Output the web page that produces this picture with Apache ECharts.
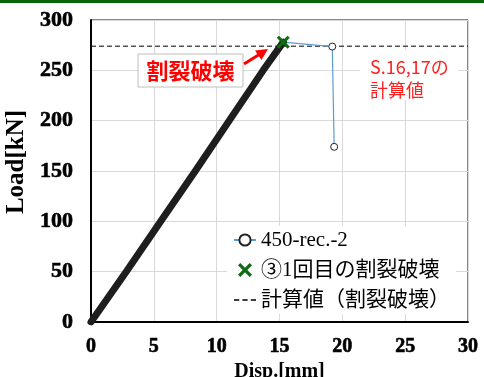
<!DOCTYPE html>
<html>
<head>
<meta charset="utf-8">
<script src="https://cdn.jsdelivr.net/npm/echarts@6/dist/echarts.min.js"></script>
<style>
  html, body { margin: 0; padding: 0; background: #fff; }
  #chart { width: 484px; height: 377px; }
</style>
</head>
<body>
<div id="chart"></div>
<script>
// Load–displacement record of specimen 450-rec.-2
const dispRec = [0, 2.8, 5.55, 8.3, 11.0, 13.7, 15.3, 19.2, 19.35];
const loadRec = [0, 50, 100, 150, 200, 250, 278, 273.6, 174];
const peakIndex = 6;                 // first splitting failure (③)
const peakDisp = [dispRec[peakIndex]];
const peakLoad = [loadRec[peakIndex]];
// calculated splitting-failure load (S.16,17)
const calcDisp = [0, 30];
const calcLoad = [274, 274];

const xTicks = [0, 5, 10, 15, 20, 25, 30];
const yTicks = [0, 50, 100, 150, 200, 250, 300];

const seriesNames = ['450-rec.-2', '③1回目の割裂破壊', '計算値（割裂破壊）'];

const serif = 'Liberation Serif';
const jpFont = '"Liberation Serif", "Noto Sans CJK JP", serif';
const jpSans = '"Noto Sans CJK JP", "Noto Sans", sans-serif';

const recPoints = dispRec.map((d, i) => i <= peakIndex
  ? { value: [d, loadRec[i]], symbol: 'none' }
  : { value: [d, loadRec[i]] });
const densePoints = dispRec.slice(0, peakIndex + 1).map((d, i) => [d, loadRec[i]]);
const peakPoints = peakDisp.map((d, i) => [d, peakLoad[i]]);
const calcPoints = calcDisp.map((d, i) => [d, calcLoad[i]]);

const crossPath = 'path://M2,0 L6,4 L10,0 L12,2 L8,6 L12,10 L10,12 L6,8 L2,12 L0,10 L4,6 L0,2 Z';
const dashIcon = 'path://M0,0 h5 v1.2 h-5 Z M8,0 h5 v1.2 h-5 Z M16,0 h5 v1.2 h-5 Z';

// heavy serif tick numbers
const tickText = size => ({
  fontFamily: serif, fontWeight: 'bold', fontSize: size, color: '#000',
  textBorderColor: '#000', textBorderWidth: 0.6
});

const chart = echarts.init(document.getElementById('chart'), null, { renderer: 'canvas' });
chart.setOption({
  animation: false,
  backgroundColor: '#fff',
  textStyle: { fontFamily: serif, fontWeight: 'bold' },
  grid: {
    left: 91, right: 16, top: 20, bottom: 55,
    containLabel: false, outerBoundsMode: 'none',
    show: true, borderColor: '#111', borderWidth: 1, backgroundColor: 'transparent'
  },
  xAxis: {
    type: 'value', min: xTicks[0], max: xTicks[xTicks.length - 1], interval: 5,
    name: 'Disp.[mm]', nameLocation: 'middle', nameGap: 30,
    nameTextStyle: { fontFamily: serif, fontWeight: 'bold', fontSize: 20, color: '#000' },
    axisLine: { show: true, onZero: false, lineStyle: { color: '#000', width: 2 } },
    axisTick: { show: false },
    axisLabel: Object.assign({ margin: 15 }, tickText(20)),
    splitLine: { show: true, lineStyle: { color: '#d9d9d9', width: 1 } }
  },
  yAxis: {
    type: 'value', min: yTicks[0], max: yTicks[yTicks.length - 1], interval: 50,
    name: 'Load[kN]', nameLocation: 'middle', nameGap: 58, nameRotate: 90,
    nameTextStyle: { fontFamily: serif, fontWeight: 'bold', fontSize: 25, color: '#000',
      padding: [0, 0, 0, 18] },
    axisLine: { show: true, onZero: false, lineStyle: { color: '#000', width: 2 } },
    axisTick: { show: false },
    axisLabel: Object.assign({ margin: 18 }, tickText(22)),
    splitLine: { show: true, lineStyle: { color: '#d9d9d9', width: 1 } }
  },
  legend: {
    data: [
      { name: seriesNames[0] },
      { name: seriesNames[1] },
      { name: seriesNames[2], icon: dashIcon, itemStyle: { color: '#000' } }
    ],
    orient: 'vertical', left: 227, top: 226,
    align: 'left',
    padding: [3, 6, 3, 6],
    itemGap: 8, itemWidth: 22, itemHeight: 14,
    backgroundColor: '#fff',
    textStyle: { fontFamily: jpFont, fontWeight: 'normal', fontSize: 21, color: '#000', lineHeight: 22 }
  },
  series: [
    {
      name: seriesNames[2], type: 'line', data: calcPoints, symbol: 'none', z: 2,
      lineStyle: { color: '#000', width: 1, type: [5, 3] }, itemStyle: { color: '#000' }
    },
    {
      name: seriesNames[0], type: 'line', data: recPoints, z: 3,
      symbol: 'circle', symbolSize: 7, showAllSymbol: true,
      lineStyle: { color: '#5b9bd5', width: 1.2 },
      itemStyle: { color: '#fff', borderColor: '#222', borderWidth: 1 }
    },
    {
      name: 'rec-band', type: 'line', data: densePoints, z: 4, symbol: 'none',
      lineStyle: { color: '#1e1e1e', width: 7, cap: 'round', join: 'round' }
    },
    {
      name: seriesNames[1], type: 'scatter', data: peakPoints, z: 5,
      symbol: crossPath, symbolSize: 13,
      itemStyle: { color: '#0b6e12', opacity: 1 }
    }
  ],
  graphic: [
    { type: 'rect', shape: { x: 0, y: 0, width: 484, height: 3 }, style: { fill: '#0a650a' }, z: 10 },
    // callout box
    { type: 'rect', shape: { x: 138, y: 54, width: 105, height: 33 },
      style: { fill: '#fff', stroke: '#bfbfbf', lineWidth: 1 }, z: 10 },
    { type: 'text', x: 190.5, y: 71, z: 11,
      style: { text: '割裂破壊', fill: '#ff0000', font: 'bold 22px ' + jpSans,
        textAlign: 'center', textVerticalAlign: 'middle' } },
    // arrow toward the splitting point
    { type: 'line', shape: { x1: 244, y1: 64, x2: 260, y2: 54 },
      style: { stroke: '#ff0000', lineWidth: 3 }, z: 11 },
    { type: 'polygon', shape: { points: [[268, 49], [255, 50.5], [261.5, 60]] },
      style: { fill: '#ff0000' }, z: 11 },
    // note on the calculated value
    { type: 'rect', shape: { x: 360, y: 50, width: 98, height: 50 },
      style: { fill: '#fff' }, z: 10 },
    { type: 'text', x: 370, y: 67.5, z: 11,
      style: { text: 'S.16,17の', fill: '#ff2020', font: '18px ' + jpSans,
        textAlign: 'left', textVerticalAlign: 'middle' } },
    { type: 'text', x: 370, y: 90, z: 11,
      style: { text: '計算値', fill: '#ff2020', font: '18px ' + jpSans,
        textAlign: 'left', textVerticalAlign: 'middle' } }
  ]
});
</script>
</body>
</html>
